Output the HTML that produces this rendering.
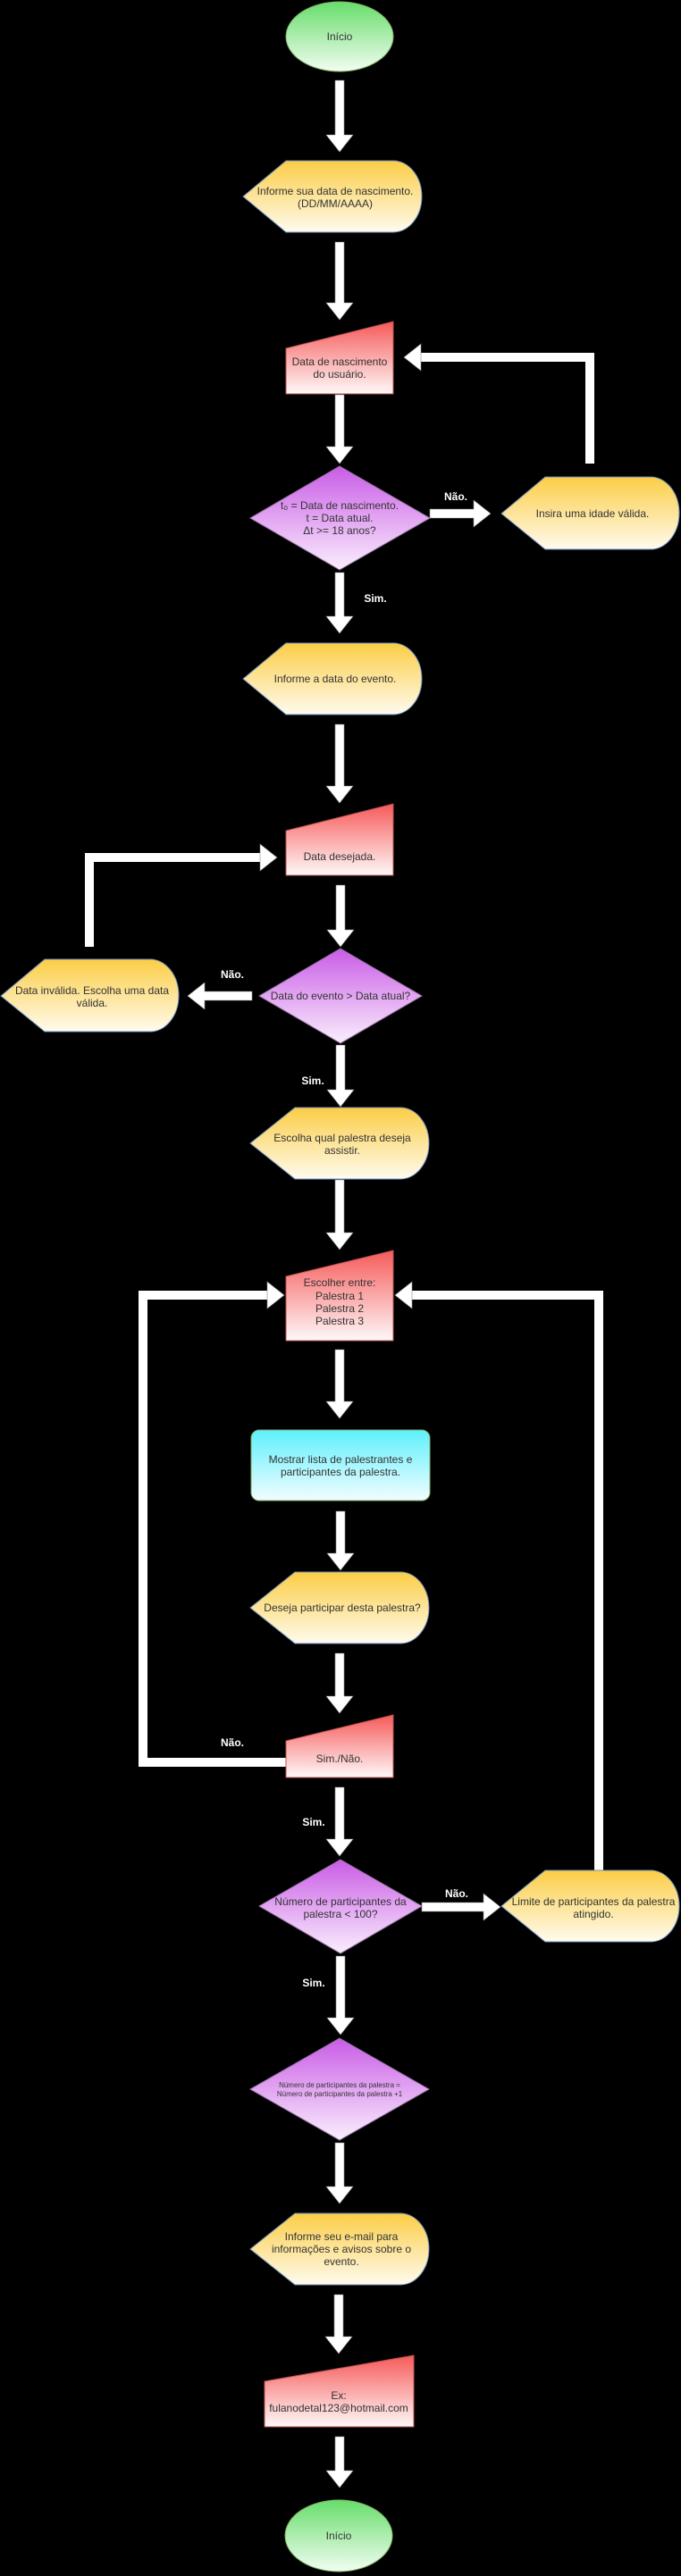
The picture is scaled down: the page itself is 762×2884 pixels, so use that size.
<!DOCTYPE html>
<html><head><meta charset="utf-8"><style>
html,body{margin:0;padding:0;background:#000;}
svg{display:block;}
text{font-family:"Liberation Sans",Arial,sans-serif;font-size:12px;fill:#333;text-anchor:middle;}
.lbl{fill:#fff;font-weight:bold;font-size:12px;}
.ar{fill:#fff;stroke:#8a8a8a;stroke-width:0.6;}
.ln{fill:none;stroke:#fff;stroke-width:10;}
</style></head><body>
<svg width="762" height="2884" viewBox="0 0 762 2884" xmlns="http://www.w3.org/2000/svg">
<defs>
<linearGradient id="g" x1="0" y1="0" x2="0" y2="1"><stop offset="0" stop-color="#67dd6b"/><stop offset="1" stop-color="#f2fdf2"/></linearGradient>
<linearGradient id="y" x1="0" y1="0" x2="0" y2="1"><stop offset="0" stop-color="#fbcd46"/><stop offset="1" stop-color="#fffbee"/></linearGradient>
<linearGradient id="r" x1="0" y1="0" x2="0" y2="1"><stop offset="0" stop-color="#f65a5a"/><stop offset="1" stop-color="#fff8f8"/></linearGradient>
<linearGradient id="p" x1="0" y1="0" x2="0" y2="1"><stop offset="0" stop-color="#c95ce6"/><stop offset="1" stop-color="#faeefd"/></linearGradient>
<linearGradient id="c" x1="0" y1="0" x2="0" y2="1"><stop offset="0" stop-color="#5ef0fd"/><stop offset="1" stop-color="#f2fdff"/></linearGradient>
</defs>
<rect width="762" height="2884" fill="#000"/>

<!-- Start -->
<ellipse cx="380" cy="41" rx="60" ry="39" fill="url(#g)" stroke="#82b366" stroke-width="1"/>
<text x="380" y="45">Início</text>

<!-- down arrows -->
<g class="ar">
<polygon points="375,90 385,90 385,151 395,151 380,170 365,151 375,151"/>
<polygon points="375,271 385,271 385,339 395,339 380,358 365,339 375,339"/>
<polygon points="375,442 385,442 385,500 395,500 380,519 365,500 375,500"/>
<polygon points="375,641 385,641 385,690 395,690 380,709 365,690 375,690"/>
<polygon points="375,811 385,811 385,880 395,880 380,899 365,880 375,880"/>
<polygon points="376,991 386,991 386,1041 396,1041 381,1060 366,1041 376,1041"/>
<polygon points="376,1170 386,1170 386,1220 396,1220 381,1239 366,1220 376,1220"/>
<polygon points="375,1321 385,1321 385,1380 395,1380 380,1399 365,1380 375,1380"/>
<polygon points="375,1511 385,1511 385,1569 395,1569 380,1588 365,1569 375,1569"/>
<polygon points="376,1692 386,1692 386,1739 396,1739 381,1758 366,1739 376,1739"/>
<polygon points="375,1851 385,1851 385,1899 395,1899 380,1918 365,1899 375,1899"/>
<polygon points="375,2001 385,2001 385,2059 395,2059 380,2078 365,2059 375,2059"/>
<polygon points="376,2190 386,2190 386,2259 396,2259 381,2278 366,2259 376,2259"/>
<polygon points="375,2399 385,2399 385,2448 395,2448 380,2467 365,2448 375,2448"/>
<polygon points="374,2569 384,2569 384,2616 394,2616 379,2635 364,2616 374,2616"/>
<polygon points="375,2728 385,2728 385,2766 395,2766 380,2785 365,2766 375,2766"/>
<!-- horizontal -->
<polygon points="481,570 530,570 530,560 549,575 530,590 530,580 481,580"/>
<polygon points="282,1110 229,1110 229,1100 210,1115 229,1130 229,1120 282,1120"/>
<polygon points="472,2130 541,2130 541,2120 560,2135 541,2150 541,2140 472,2140"/>
</g>

<!-- loops -->
<polyline class="ln" points="660,519 660,400 471,400"/>
<polygon class="ar" points="471,385 452,400 471,415"/>
<polyline class="ln" points="100,1060 100,960 291,960"/>
<polygon class="ar" points="291,945 310,960 291,975"/>
<polyline class="ln" points="320,1973 160,1973 160,1450 299,1450"/>
<polygon class="ar" points="299,1435 318,1450 299,1465"/>
<polyline class="ln" points="670,2094 670,1450 461,1450"/>
<polygon class="ar" points="461,1435 442,1450 461,1465"/>

<!-- Display 1 -->
<path d="M272,220 L320,180 L440,180 A32,40 0 0 1 440,260 L320,260 Z" fill="url(#y)" stroke="#6c8ebf" stroke-width="1"/>
<text x="375" y="218">Informe sua data de nascimento.</text>
<text x="375" y="232">(DD/MM/AAAA)</text>

<!-- Manual input 1 -->
<path d="M320,390 L440,360 L440,441 L320,441 Z" fill="url(#r)" stroke="#b85450" stroke-width="1"/>
<text x="380" y="409">Data de nascimento</text>
<text x="380" y="423">do usuário.</text>

<!-- Diamond 1 -->
<path d="M380,522 L481,580 L380,638 L280,580 Z" fill="url(#p)" stroke="#9673a6" stroke-width="1"/>
<text x="380" y="570">t₀ = Data de nascimento.</text>
<text x="380" y="584">t = Data atual.</text>
<text x="380" y="598">Δt &gt;= 18 anos?</text>
<text class="lbl" x="510" y="560">Não.</text>
<text class="lbl" x="420" y="674">Sim.</text>

<!-- Insira -->
<path d="M561,575 L610,534 L728,534 A32,40.5 0 0 1 728,615 L610,615 Z" fill="url(#y)" stroke="#6c8ebf" stroke-width="1"/>
<text x="663" y="579">Insira uma idade válida.</text>

<!-- Display 2 -->
<path d="M272,760 L320,720 L440,720 A32,40 0 0 1 440,800 L320,800 Z" fill="url(#y)" stroke="#6c8ebf" stroke-width="1"/>
<text x="375" y="764">Informe a data do evento.</text>

<!-- Manual input 2 -->
<path d="M320,930 L440,900 L440,980 L320,980 Z" fill="url(#r)" stroke="#b85450" stroke-width="1"/>
<text x="380" y="963">Data desejada.</text>

<!-- Diamond 2 -->
<path d="M381,1062 L472,1115 L381,1168 L290,1115 Z" fill="url(#p)" stroke="#9673a6" stroke-width="1"/>
<text x="381" y="1119">Data do evento &gt; Data atual?</text>
<text class="lbl" x="260" y="1095">Não.</text>
<text class="lbl" x="350" y="1214">Sim.</text>

<!-- Data inválida -->
<path d="M1,1115 L50,1074 L168,1074 A32,40.5 0 0 1 168,1155 L50,1155 Z" fill="url(#y)" stroke="#6c8ebf" stroke-width="1"/>
<text x="103" y="1113">Data inválida. Escolha uma data</text>
<text x="103" y="1127">válida.</text>

<!-- Display 3 -->
<path d="M280,1280 L330,1240 L448,1240 A32,40 0 0 1 448,1320 L330,1320 Z" fill="url(#y)" stroke="#6c8ebf" stroke-width="1"/>
<text x="383" y="1278">Escolha qual palestra deseja</text>
<text x="383" y="1292">assistir.</text>

<!-- Manual input 3 -->
<path d="M320,1429 L440,1400 L440,1501 L320,1501 Z" fill="url(#r)" stroke="#b85450" stroke-width="1"/>
<text x="380" y="1440">Escolher entre:</text>
<text x="380" y="1455">Palestra 1</text>
<text x="380" y="1469">Palestra 2</text>
<text x="380" y="1483">Palestra 3</text>

<!-- Process cyan -->
<rect x="281" y="1601" width="200" height="79" rx="9" fill="url(#c)" stroke="#82b366" stroke-width="1"/>
<text x="381" y="1638">Mostrar lista de palestrantes e</text>
<text x="381" y="1652">participantes da palestra.</text>

<!-- Display 4 -->
<path d="M280,1800 L330,1760 L448,1760 A32,40 0 0 1 448,1840 L330,1840 Z" fill="url(#y)" stroke="#6c8ebf" stroke-width="1"/>
<text x="383" y="1804">Deseja participar desta palestra?</text>

<!-- Manual input 4 -->
<path d="M320,1949 L440,1920 L440,1990 L320,1990 Z" fill="url(#r)" stroke="#b85450" stroke-width="1"/>
<text x="380" y="1973">Sim./Não.</text>
<text class="lbl" x="260" y="1955">Não.</text>
<text class="lbl" x="351" y="2044">Sim.</text>

<!-- Diamond 3 -->
<path d="M381,2082 L472,2134 L381,2187 L290,2134 Z" fill="url(#p)" stroke="#9673a6" stroke-width="1"/>
<text x="381" y="2133">Número de participantes da</text>
<text x="381" y="2147">palestra &lt; 100?</text>
<text class="lbl" x="511" y="2124">Não.</text>

<!-- Limite -->
<path d="M561,2134 L610,2094 L728,2094 A32,40 0 0 1 728,2174 L610,2174 Z" fill="url(#y)" stroke="#6c8ebf" stroke-width="1"/>
<text x="664" y="2133">Limite de participantes da palestra</text>
<text x="664" y="2147">atingido.</text>

<text class="lbl" x="351" y="2224">Sim.</text>

<!-- Diamond 4 -->
<path d="M380,2282 L480,2339 L380,2396 L280,2339 Z" fill="url(#p)" stroke="#9673a6" stroke-width="1"/>
<text x="380" y="2337" style="font-size:8px">Número de participantes da palestra =</text>
<text x="380" y="2347" style="font-size:8px">Número de participantes da palestra +1</text>

<!-- Display 5 -->
<path d="M280,2518 L330,2478 L448,2478 A32,40 0 0 1 448,2558 L330,2558 Z" fill="url(#y)" stroke="#6c8ebf" stroke-width="1"/>
<text x="382" y="2508">Informe seu e-mail para</text>
<text x="382" y="2522">informações e avisos sobre o</text>
<text x="382" y="2536">evento.</text>

<!-- Manual input 5 -->
<path d="M296,2666 L463,2637 L463,2717 L296,2717 Z" fill="url(#r)" stroke="#b85450" stroke-width="1"/>
<text x="379" y="2686">Ex:</text>
<text x="379" y="2700">fulanodetal123@hotmail.com</text>

<!-- End -->
<ellipse cx="379" cy="2839" rx="60" ry="40" fill="url(#g)" stroke="#82b366" stroke-width="1"/>
<text x="379" y="2843">Início</text>
</svg>
</body></html>
